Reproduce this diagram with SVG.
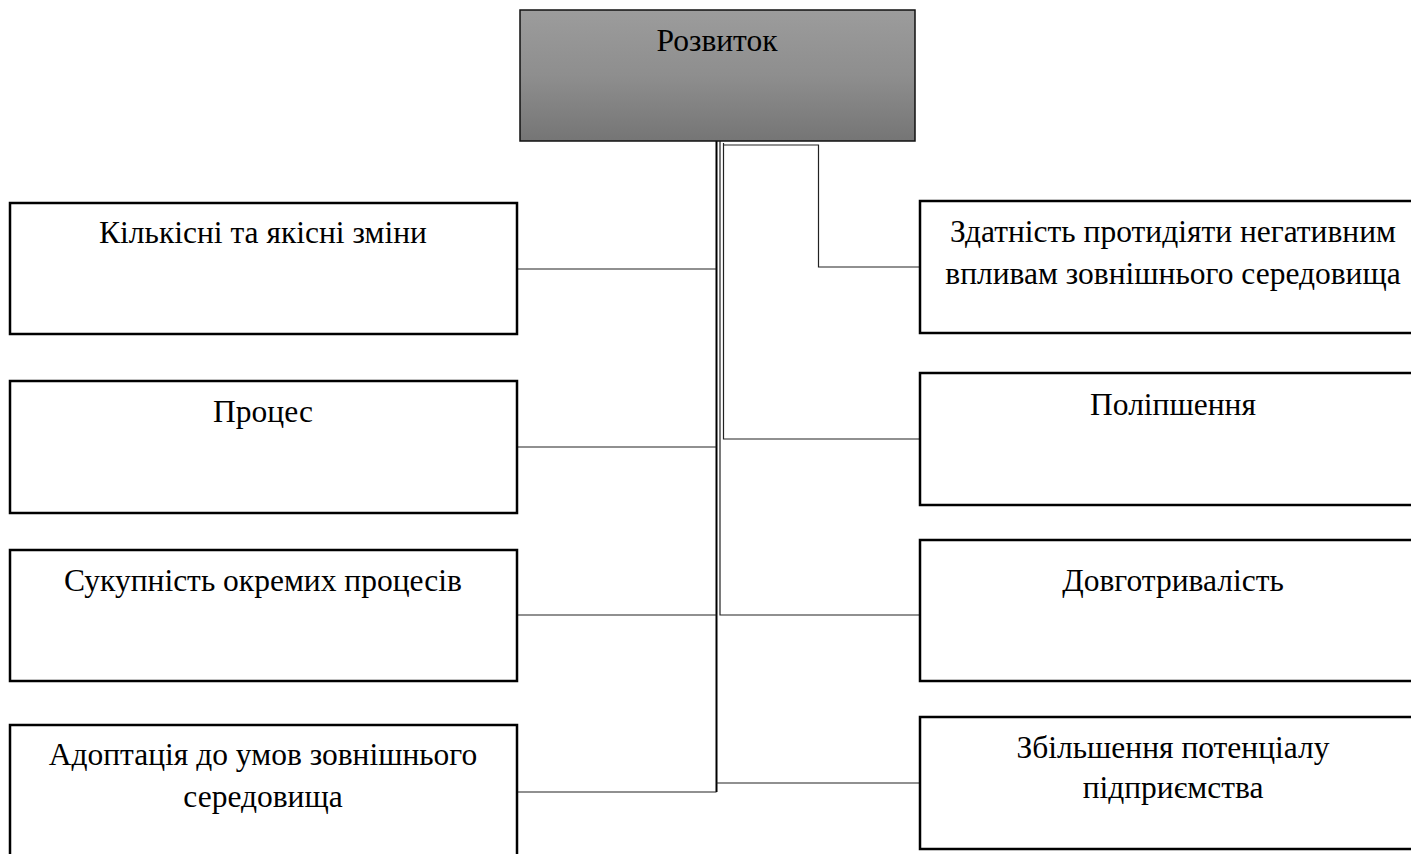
<svg xmlns="http://www.w3.org/2000/svg" width="1411" height="854" viewBox="0 0 1411 854">
  <defs>
    <linearGradient id="topFill" x1="0" y1="0" x2="0" y2="1">
      <stop offset="0" stop-color="#9c9c9c"/>
      <stop offset="0.5" stop-color="#8e8e8e"/>
      <stop offset="1" stop-color="#757575"/>
    </linearGradient>
  </defs>
  <style>
    .box { fill: #ffffff; stroke: #000000; stroke-width: 2.5; }
    .root { fill: url(#topFill); stroke: #111111; stroke-width: 1.5; }
    .lbl { font-family: "Liberation Serif", "Times New Roman", serif; font-size: 31.5px; fill: #000000; text-anchor: middle; }
    .wire { fill: none; stroke: #222222; stroke-width: 1.2; }
    .trunk { fill: none; stroke: #000000; stroke-width: 2; }
  </style>
  <rect width="1411" height="854" fill="#ffffff"/>

  <g id="connectors">
    <!-- main trunk to the left-hand boxes and the bottom right box -->
    <path class="trunk" d="M716.5 141 V792"/>
    <path class="wire" d="M517 269 H716.5"/>
    <path class="wire" d="M517 447 H716.5"/>
    <path class="wire" d="M517 615 H716.5"/>
    <path class="wire" d="M517 792 H716.5"/>
    <path class="wire" d="M716.5 783 H920"/>
    <!-- second riser to "Довготривалість" -->
    <path class="wire" d="M720 141 V615 H920"/>
    <!-- third riser to "Поліпшення" -->
    <path class="wire" d="M723.5 143 V439 H920"/>
    <!-- elbow to "Здатність..." -->
    <path class="wire" d="M723.5 145 H818.5 V267 H920"/>
  </g>

  <g id="node-root">
    <rect class="root" x="520" y="10" width="395" height="131"/>
    <text class="lbl" x="717" y="51">Розвиток</text>
  </g>

  <g id="node-kilkisni">
    <rect class="box" x="10" y="203" width="507" height="131"/>
    <text class="lbl" x="263" y="243">Кількісні та якісні зміни</text>
  </g>
  <g id="node-protses">
    <rect class="box" x="10" y="381" width="507" height="132"/>
    <text class="lbl" x="263" y="422">Процес</text>
  </g>
  <g id="node-sukupnist">
    <rect class="box" x="10" y="550" width="507" height="131"/>
    <text class="lbl" x="263" y="591">Сукупність окремих процесів</text>
  </g>
  <g id="node-adoptatsiia">
    <rect class="box" x="10" y="725" width="507" height="140"/>
    <text class="lbl" x="263" y="765">Адоптація до умов зовнішнього</text>
    <text class="lbl" x="263" y="807">середовища</text>
  </g>

  <g id="node-zdatnist">
    <rect class="box" x="920" y="201" width="507" height="132"/>
    <text class="lbl" x="1173" y="242">Здатність протидіяти негативним</text>
    <text class="lbl" x="1173" y="284">впливам зовнішнього середовища</text>
  </g>
  <g id="node-polipshennia">
    <rect class="box" x="920" y="373" width="507" height="132"/>
    <text class="lbl" x="1173" y="415">Поліпшення</text>
  </g>
  <g id="node-dovhotryvalist">
    <rect class="box" x="920" y="540" width="507" height="141"/>
    <text class="lbl" x="1173" y="591">Довготривалість</text>
  </g>
  <g id="node-zbilshennia">
    <rect class="box" x="920" y="717" width="507" height="132"/>
    <text class="lbl" x="1173" y="758">Збільшення потенціалу</text>
    <text class="lbl" x="1173" y="798">підприємства</text>
  </g>
</svg>
